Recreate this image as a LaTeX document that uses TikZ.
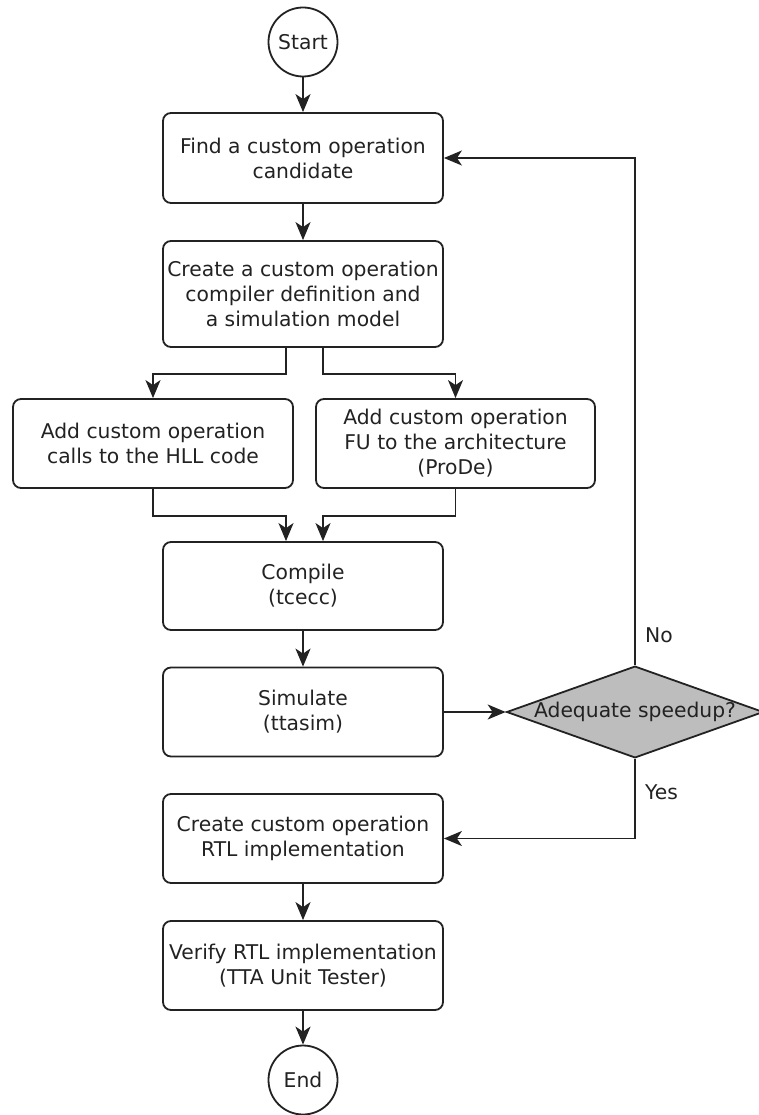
\documentclass[tikz,border=0pt]{standalone}
\usepackage{fontspec}
\setmainfont{DejaVu Sans}
\usetikzlibrary{shapes.geometric,arrows.meta}
\definecolor{ln}{HTML}{222222}
\definecolor{dfill}{HTML}{BDBDBD}
\tikzset{
  x=1pt,y=-1pt,
  every node/.style={font=\fontsize{20.3}{25}\selectfont, text=ln},
  stepbox/.style={draw=ln, line width=1.8pt, rounded corners=8pt, minimum width=280pt, minimum height=89pt, align=center, inner sep=0pt},
  term/.style={draw=ln, line width=1.8pt, circle, minimum size=69pt, inner sep=0pt},
  decision/.style={draw=ln, line width=1.8pt, diamond, fill=dfill, minimum width=246pt, minimum height=88pt, inner sep=0pt},
  arr/.style={draw=ln, line width=1.8pt, -{Stealth[length=18pt,width=15pt,inset=5pt]}},
  lbl/.style={anchor=west, inner sep=0pt}
}
\begin{document}
\begin{tikzpicture}
\useasboundingbox (0,0) rectangle (758,1115);
\node[term] (start) at (303,42) {Start};
\node[stepbox, minimum height=90pt] (find) at (303,158) {Find a custom operation\\candidate};
\node[stepbox, minimum height=106pt] (create) at (303,294) {Create a custom operation\\compiler definition and\\a simulation model};
\node[stepbox] (hll) at (153,443.5) {Add custom operation\\calls to the HLL code};
\node[stepbox, minimum width=279pt] (prode) at (455.5,443.5) {Add custom operation\\FU to the architecture\\(ProDe)};
\node[stepbox, minimum height=88pt] (compile) at (303,586) {Compile\\(tcecc)};
\node[stepbox] (sim) at (303,712) {Simulate\\(ttasim)};
\node[decision, shape aspect=2.8] (dec) at (635,712) {Adequate speedup?};
\node[stepbox] (rtl) at (303,838.5) {Create custom operation\\RTL implementation};
\node[stepbox] (verify) at (303,965.5) {Verify RTL implementation\\(TTA Unit Tester)};
\node[term] (end) at (303,1080) {End};

\draw[arr] (start) -- (find);
\draw[arr] (find) -- (create);
\draw[arr] ([xshift=-17pt]create.south) -- ++(0,26) -| (hll.north);
\draw[arr] ([xshift=20pt]create.south) -- ++(0,26) -| (prode.north);
\draw[arr] (hll.south) -- ++(0,27) -| ([xshift=-17pt]compile.north);
\draw[arr] (prode.south) -- ++(0,27) -| ([xshift=20pt]compile.north);
\draw[arr] (compile) -- (sim);
\draw[arr] (sim.east) -- (dec.west);
\draw[arr] (dec.north) |- (find.east);
\draw[arr] (dec.south) |- (rtl.east);
\draw[arr] (rtl) -- (verify);
\draw[arr] (verify) -- (end);

\node[lbl] (no) at (645,635) {No};
\node[lbl] (yes) at (645,792) {Yes};
\end{tikzpicture}
\end{document}
